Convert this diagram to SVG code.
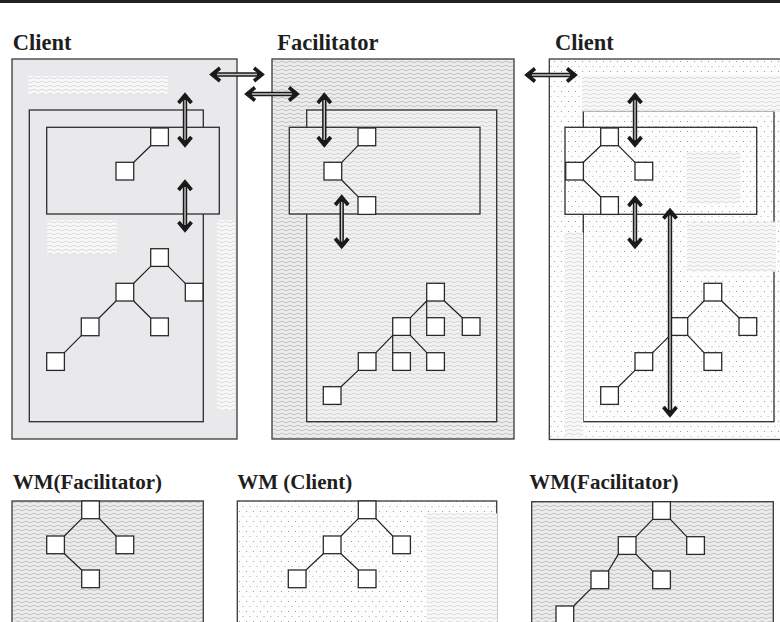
<svg xmlns="http://www.w3.org/2000/svg" xmlns:xlink="http://www.w3.org/1999/xlink" width="780" height="622" viewBox="0 0 780 622">
  <style>
    .title { font-family: "Liberation Serif", "Times New Roman", serif; font-weight: bold; font-size: 22.5px; fill: #1e1e1e; }
    .sub { font-family: "Liberation Serif", "Times New Roman", serif; font-weight: bold; font-size: 21px; fill: #1e1e1e; }
    .frame { stroke: #3a3a3a; stroke-width: 1.3; }
    .box { stroke: #2e2e2e; stroke-width: 1.3; }
    .gray { fill: #e9e9eb; }
    .patch { fill: url(#wavePale); stroke: none; }
    .sq { fill: #fff; stroke: #2a2a2a; stroke-width: 1.3; }
    .edge { fill: none; stroke: #222; stroke-width: 1.2; }
    .shaft { fill: none; stroke: #1a1a1a; stroke-width: 4.4; marker-start: url(#head); marker-end: url(#head); }
    .core { fill: none; stroke: #c4c4c4; stroke-width: 1.4; }
  </style>
  <defs>
    <pattern id="wave" width="8" height="4" patternUnits="userSpaceOnUse">
      <rect width="8" height="4" fill="#ececec"/>
      <path d="M0,2 Q2,0.4 4,2 T8,2" fill="none" stroke="#a0a0a0" stroke-width="0.55"/>
    </pattern>
    <pattern id="waveLight" width="8" height="4" patternUnits="userSpaceOnUse">
      <rect width="8" height="4" fill="#f1f1f1"/>
      <path d="M0,2 Q2,0.4 4,2 T8,2" fill="none" stroke="#b4b4b4" stroke-width="0.5"/>
    </pattern>
    <pattern id="wavePale" width="8" height="4" patternUnits="userSpaceOnUse">
      <rect width="8" height="4" fill="#f8f8f8"/>
      <path d="M0,2 Q2,0.4 4,2 T8,2" fill="none" stroke="#c6c6c6" stroke-width="0.6"/>
    </pattern>
    <pattern id="dots" width="7" height="10" patternUnits="userSpaceOnUse">
      <rect width="7" height="10" fill="#fdfdfd"/>
      <rect x="1" y="1" width="1" height="1" fill="#9c9c9c"/>
      <rect x="4.5" y="6" width="1" height="1" fill="#ababab"/>
    </pattern>
    <marker id="head" viewBox="-11 -9 16 18" markerWidth="16" markerHeight="18" refX="0" refY="0" orient="auto-start-reverse" markerUnits="userSpaceOnUse">
      <path d="M-8,-6.5 L0,0 L-8,6.5" fill="none" stroke="#1a1a1a" stroke-width="3.6"/>
    </marker>
    <rect id="sq" class="sq" width="17.7" height="17.7"/>
  </defs>

  <rect width="780" height="622" fill="#fff"/>
  <rect x="0" y="0" width="780" height="3" fill="#222"/>

  <!-- left client -->
  <g id="client-left">
    <text class="title" x="12.7" y="50">Client</text>
    <rect class="frame gray" x="12" y="59" width="225" height="380"/>
    <rect class="patch" x="28" y="76" width="140" height="18"/>
    <rect class="box gray" x="29.3" y="110" width="174" height="311.7"/>
    <rect class="patch" x="47" y="220" width="70" height="34"/>
    <rect class="patch" x="217" y="220" width="18" height="190"/>
    <rect class="box gray" x="46.7" y="127.3" width="172.6" height="86.7"/>
    <g id="cl-nodes">
      <use href="#sq" x="150.7" y="128"/>
      <use href="#sq" x="116" y="162.3"/>
      <use href="#sq" x="150.7" y="248.7"/>
      <use href="#sq" x="116" y="283.3"/>
      <use href="#sq" x="185.3" y="283.3"/>
      <use href="#sq" x="81.3" y="318"/>
      <use href="#sq" x="150.7" y="318"/>
      <use href="#sq" x="46.7" y="352.7"/>
    </g>
  </g>

  <!-- facilitator -->
  <g id="facilitator">
    <text class="title" x="277.3" y="50">Facilitator</text>
    <rect class="frame" x="272" y="59" width="242" height="380" fill="url(#wave)"/>
    <rect class="box" x="306.7" y="110" width="190" height="311.7" fill="url(#waveLight)"/>
    <rect class="box" x="289.3" y="127.3" width="190.7" height="86.7" fill="url(#waveLight)"/>
    <g id="fa-nodes">
      <use href="#sq" x="358" y="128"/>
      <use href="#sq" x="324" y="162.3"/>
      <use href="#sq" x="358" y="196.7"/>
      <use href="#sq" x="426.7" y="283.3"/>
      <use href="#sq" x="392.7" y="317.7"/>
      <use href="#sq" x="426.7" y="317.7"/>
      <use href="#sq" x="462.3" y="317.7"/>
      <use href="#sq" x="358.3" y="352.7"/>
      <use href="#sq" x="392.7" y="352.7"/>
      <use href="#sq" x="426.7" y="352.7"/>
      <use href="#sq" x="323.3" y="386.7"/>
    </g>
  </g>

  <!-- right client -->
  <g id="client-right">
    <text class="title" x="555" y="50">Client</text>
    <rect class="frame" x="549.3" y="59" width="240" height="380.5" fill="url(#dots)"/>
    <rect class="box" x="583.3" y="111" width="190.7" height="310.7" fill="url(#dots)"/>
    <rect class="patch" x="582" y="75" width="200" height="36.5"/>
    <rect class="patch" x="687" y="221.7" width="89" height="50"/>
    <rect class="patch" x="565" y="232.5" width="18.3" height="204"/>
    <rect class="box" x="565" y="127.3" width="191.7" height="87" fill="url(#dots)"/>
    <rect class="patch" x="686.7" y="151.7" width="53.3" height="51.6"/>
    <g id="cr-nodes">
      <use href="#sq" x="600.7" y="128"/>
      <use href="#sq" x="565.7" y="162.3"/>
      <use href="#sq" x="635" y="162.3"/>
      <use href="#sq" x="600.7" y="196.7"/>
      <use href="#sq" x="704" y="283.3"/>
      <use href="#sq" x="670" y="317.7"/>
      <use href="#sq" x="739" y="317.7"/>
      <use href="#sq" x="635" y="352.7"/>
      <use href="#sq" x="704" y="352.7"/>
      <use href="#sq" x="600.7" y="386.7"/>
    </g>
  </g>

  <!-- working models -->
  <g id="wm-facilitator-left">
    <text class="sub" x="12.7" y="489">WM(Facilitator)</text>
    <rect class="frame" x="12" y="501" width="191.3" height="130" fill="url(#wave)"/>
    <use href="#sq" x="81.7" y="501"/>
    <use href="#sq" x="46.7" y="536"/>
    <use href="#sq" x="116" y="536"/>
    <use href="#sq" x="81.7" y="570"/>
  </g>

  <g id="wm-client">
    <text class="sub" x="237.3" y="489">WM (Client)</text>
    <rect class="frame" x="237.3" y="501" width="259.4" height="130" fill="url(#dots)"/>
    <rect class="patch" x="426.7" y="513.3" width="70.6" height="110"/>
    <use href="#sq" x="358.3" y="501"/>
    <use href="#sq" x="323.3" y="536"/>
    <use href="#sq" x="392.7" y="536"/>
    <use href="#sq" x="288.3" y="570"/>
    <use href="#sq" x="358.3" y="570"/>
  </g>

  <g id="wm-facilitator-right">
    <text class="sub" x="529.3" y="489">WM(Facilitator)</text>
    <rect class="frame" x="531.7" y="501.7" width="241.6" height="130" fill="url(#wave)"/>
    <use href="#sq" x="652.7" y="501.7"/>
    <use href="#sq" x="618.3" y="536.7"/>
    <use href="#sq" x="686.7" y="536.7"/>
    <use href="#sq" x="591" y="571"/>
    <use href="#sq" x="652.7" y="571"/>
    <use href="#sq" x="556" y="606"/>
  </g>

  <!-- connectors: tree edges and exchange arrows -->
  <g id="connectors">
    <path class="edge" d="M133.7,162.3 L150.7,145.7
      M150.7,266.4 L133.7,283.3 M168.4,266.4 L185.3,283.3 M116,301 L99,318 M133.7,301 L150.7,318 M81.3,335.7 L64.4,352.7"/>
    <path class="edge" d="M341.7,162.3 L358,145.7 M341.7,180 L358,196.7
      M426.7,301 L410.4,317.7 M426.7,301 L426.7,317.7 M444.4,301 L462.3,317.7
      M392.7,335.4 L376,352.7 M392.7,335.4 L392.7,352.7 M410.4,335.4 L426.7,352.7 M358.3,370.4 L341,386.7"/>
    <path class="edge" d="M600.7,145.7 L583.4,162.3 M618.4,145.7 L635,162.3 M583.4,180 L600.7,196.7
      M687.7,317.7 L704,301 M721.7,301 L739,317.7 M670,335.4 L652.7,352.7 M687.7,335.4 L704,352.7 M635,370.4 L618.4,386.7"/>
    <path class="edge" d="M81.7,518.7 L64.4,536 M99.4,518.7 L116,536 M64.4,553.7 L81.7,570"/>
    <path class="edge" d="M358.3,518.7 L341,536 M376,518.7 L392.7,536 M323.3,553.7 L306,570 M341,553.7 L358.3,570"/>
    <path class="edge" d="M652.7,519.4 L636,536.7 M670.4,519.4 L686.7,536.7 M618.3,554.4 L608.3,571 M636,554.4 L652.7,571 M591,588.7 L573.7,606"/>

    <path class="shaft" d="M212,74.5 H262"/><path class="core" d="M217,74.5 H257"/>
    <path class="shaft" d="M247,94 H297"/><path class="core" d="M252,94 H292"/>
    <path class="shaft" d="M527,75 H575"/><path class="core" d="M532,75 H570"/>
    <path class="shaft" d="M185,95 V145"/><path class="core" d="M185,100 V140"/>
    <path class="shaft" d="M185,182 V230"/><path class="core" d="M185,187 V225"/>
    <path class="shaft" d="M324.3,95 V145"/><path class="core" d="M324.3,100 V140"/>
    <path class="shaft" d="M341.7,197 V246.5"/><path class="core" d="M341.7,202 V241.5"/>
    <path class="shaft" d="M635,95 V145"/><path class="core" d="M635,100 V140"/>
    <path class="shaft" d="M635,198 V246.5"/><path class="core" d="M635,203 V241.5"/>
    <path class="shaft" d="M670,210.5 V415"/><path class="core" d="M670,215.5 V410"/>
  </g>
</svg>
